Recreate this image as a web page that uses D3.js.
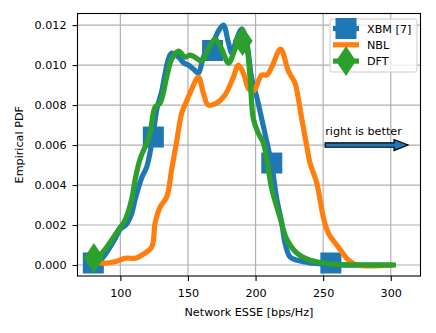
<!DOCTYPE html>
<html>
<head>
<meta charset="utf-8">
<script src="https://cdn.jsdelivr.net/npm/d3@7"></script>
<style>
	body { margin: 0; background: #fff; }
	text { font-family: "DejaVu Sans", sans-serif; fill: #000; }
</style>
</head>
<body>
<div id="chart"></div>
<script>

///////////////////////////////////////////////////////////////////////////
/////////////////////////////// The data //////////////////////////////////
///////////////////////////////////////////////////////////////////////////

var seriesNames = ["XBM [7]", "NBL", "DFT"];

var xbmX = [80, 86, 91, 96, 100, 104, 108, 111, 116, 119.5, 124, 127, 130.6, 135.5, 138, 143, 147, 150.3, 154, 157.7, 161.4, 165, 168.8, 172.5, 176.2, 180, 182.4, 186, 189.8, 193.5, 197.2, 200.9, 204.6, 209.5, 212, 215.7, 219.4, 221.8, 225.5, 230, 235.3, 240, 250, 260, 280, 300];
var xbmY = [0.0001, 0.0003, 0.00075, 0.0013, 0.0018, 0.0020, 0.0025, 0.0033, 0.0044, 0.0049, 0.0064, 0.0078, 0.0087, 0.0103, 0.0106, 0.0104, 0.0101, 0.0100, 0.0098, 0.0096, 0.0104, 0.0108, 0.01115, 0.0117, 0.0120, 0.0111, 0.0106, 0.0113, 0.0118, 0.0111, 0.0093, 0.0084, 0.0073, 0.0058, 0.0050, 0.0033, 0.0021, 0.0011, 0.0004, 0.00025, 0.00017, 0.0001, 0.00005, 0, 0, 0];

var nblX = [84, 91, 98, 103.5, 111, 116, 123.2, 125.7, 129.4, 134.3, 138, 141.7, 145.4, 149, 152.8, 157.7, 161.4, 165, 171.3, 177.4, 183.6, 187.3, 191, 195, 198.4, 204.6, 208.3, 212, 218.5, 224.3, 229.2, 231.7, 234.2, 238, 240.3, 245.3, 250.1, 253.8, 261.2, 268.6, 275, 300];
var nblY = [0.0001, 0.0001, 0.0002, 0.00034, 0.00034, 0.0005, 0.0009, 0.0021, 0.0029, 0.0034, 0.0048, 0.0062, 0.0076, 0.0082, 0.0088, 0.0094, 0.0086, 0.0080, 0.0081, 0.0085, 0.0094, 0.0100, 0.0096, 0.0088, 0.0087, 0.0095, 0.0095, 0.0099, 0.0108, 0.0097, 0.0091, 0.0083, 0.0073, 0.0059, 0.0051, 0.0041, 0.0024, 0.0016, 0.0009, 0.00025, 0, 0];

var dftX = [80, 85, 91, 98.5, 103.5, 108.4, 111, 114.6, 119.5, 122, 125.7, 129.4, 134.3, 138, 143, 147.9, 151.6, 155, 160.2, 165, 170, 175, 180, 184.8, 189.8, 193.5, 195.9, 198.4, 202, 205.8, 209, 212, 218, 223, 230.5, 240, 250, 260, 280, 302];
var dftY = [0.0003, 0.0005, 0.0010, 0.00175, 0.00225, 0.0033, 0.0043, 0.0053, 0.0061, 0.0066, 0.0079, 0.0081, 0.0094, 0.0103, 0.0107, 0.0104, 0.0105, 0.0104, 0.0102, 0.0108, 0.0113, 0.0108, 0.0101, 0.0108, 0.0116, 0.0109, 0.0094, 0.0073, 0.0066, 0.0061, 0.0050, 0.0038, 0.0024, 0.0013, 0.0006, 0.00025, 0.0001, 0.00003, 0, 0];

//Marker positions
var xbmMarkX = [80, 124.4, 168.2, 212, 255.7];
var xbmMarkY = [0.0001, 0.0064, 0.01073, 0.0051, 0.0001];
var dftMarkX = [80.4, 190.4];
var dftMarkY = [0.00035, 0.0112];

var xTicks = [100, 150, 200, 250, 300];
var yTicks = [0, 0.002, 0.004, 0.006, 0.008, 0.010, 0.012];

///////////////////////////////////////////////////////////////////////////
//////////////////////////// Set up the SVG ///////////////////////////////
///////////////////////////////////////////////////////////////////////////

var width = 436,
	height = 333,
	fontSize = "11.2px";

var plotLeft = 77.5,
	plotRight = 420.5,
	plotTop = 13.5,
	plotBottom = 276;

var colors = ["#1f77b4", "#ff7f0e", "#2ca02c"];

var svg = d3.select("#chart")
	.append("svg")
	.attr("width", width)
	.attr("height", height);

var x = d3.scaleLinear().domain([68.3, 322]).range([plotLeft, plotRight]);
var y = d3.scaleLinear().domain([-0.00055, 0.01258]).range([plotBottom, plotTop]);

svg.append("defs").append("clipPath")
	.attr("id", "plot-clip")
	.append("rect")
	.attr("x", plotLeft)
	.attr("y", plotTop)
	.attr("width", plotRight - plotLeft)
	.attr("height", plotBottom - plotTop);

///////////////////////////////////////////////////////////////////////////
///////////////////////////////// Grid ////////////////////////////////////
///////////////////////////////////////////////////////////////////////////

var grid = svg.append("g").attr("class", "grid");

grid.selectAll(".vgrid")
	.data(xTicks)
	.enter().append("line")
	.attr("x1", function(d) { return x(d); })
	.attr("x2", function(d) { return x(d); })
	.attr("y1", plotTop)
	.attr("y2", plotBottom)
	.style("stroke", "#b0b0b0")
	.style("stroke-width", 1.2);

grid.selectAll(".hgrid")
	.data(yTicks)
	.enter().append("line")
	.attr("x1", plotLeft)
	.attr("x2", plotRight)
	.attr("y1", function(d) { return y(d); })
	.attr("y2", function(d) { return y(d); })
	.style("stroke", "#b0b0b0")
	.style("stroke-width", 1.2);

///////////////////////////////////////////////////////////////////////////
//////////////////////////////// Lines /////////////////////////////////////
///////////////////////////////////////////////////////////////////////////

var line = d3.line()
	.x(function(d) { return x(d[0]); })
	.y(function(d) { return y(d[1]); })
	.curve(d3.curveCatmullRom.alpha(0.5));

var series = [
	d3.zip(xbmX, xbmY),
	d3.zip(nblX, nblY),
	d3.zip(dftX, dftY)
];
var markers = [
	d3.zip(xbmMarkX, xbmMarkY),
	[],
	d3.zip(dftMarkX, dftMarkY)
];

var plot = svg.append("g").attr("clip-path", "url(#plot-clip)");

//Diamond shape, taller than wide
function diamondPath(cx, cy, w, h) {
	return "M" + cx + "," + (cy - h/2) + "L" + (cx + w/2) + "," + cy +
		"L" + cx + "," + (cy + h/2) + "L" + (cx - w/2) + "," + cy + "Z";
}

series.forEach(function(s, i) {
	plot.append("path")
		.datum(s)
		.attr("d", line)
		.style("fill", "none")
		.style("stroke", colors[i])
		.style("stroke-width", 5.2)
		.style("stroke-linejoin", "round")
		.style("stroke-linecap", "square");

	markers[i].forEach(function(m) {
		if (i === 0) {
			plot.append("rect")
				.attr("x", x(m[0]) - 10.5)
				.attr("y", y(m[1]) - 10.5)
				.attr("width", 21)
				.attr("height", 21)
				.style("fill", colors[i]);
		} else {
			plot.append("path")
				.attr("d", diamondPath(x(m[0]), y(m[1]), 20, 30))
				.style("fill", colors[i]);
		}
	});
});

///////////////////////////////////////////////////////////////////////////
//////////////////////////////// Axes //////////////////////////////////////
///////////////////////////////////////////////////////////////////////////

svg.append("g")
	.attr("transform", "translate(0," + plotBottom + ")")
	.call(d3.axisBottom(x).tickValues(xTicks).tickSize(5).tickPadding(8).tickFormat(d3.format("d")))
	.call(function(g) {
		g.select(".domain").remove();
		g.selectAll("line").style("stroke-width", 1.1);
		g.selectAll("text").style("font-size", fontSize).style("font-family", "DejaVu Sans");
	});

svg.append("g")
	.attr("transform", "translate(" + plotLeft + ",0)")
	.call(d3.axisLeft(y).tickValues(yTicks).tickSize(5).tickPadding(6).tickFormat(d3.format(".3f")))
	.call(function(g) {
		g.select(".domain").remove();
		g.selectAll("line").style("stroke-width", 1.1);
		g.selectAll("text").style("font-size", fontSize).style("font-family", "DejaVu Sans");
	});

//Frame
svg.append("rect")
	.attr("x", plotLeft)
	.attr("y", plotTop)
	.attr("width", plotRight - plotLeft)
	.attr("height", plotBottom - plotTop)
	.style("fill", "none")
	.style("stroke", "#000")
	.style("stroke-width", 1.1);

svg.append("text")
	.attr("x", (plotLeft + plotRight) / 2)
	.attr("y", 316)
	.style("text-anchor", "middle")
	.style("font-size", fontSize)
	.text("Network ESSE [bps/Hz]");

svg.append("text")
	.attr("transform", "translate(23," + ((plotTop + plotBottom) / 2) + ") rotate(-90)")
	.style("text-anchor", "middle")
	.style("font-size", fontSize)
	.text("Empirical PDF");

///////////////////////////////////////////////////////////////////////////
///////////////////////////// Annotation ///////////////////////////////////
///////////////////////////////////////////////////////////////////////////

svg.append("text")
	.attr("x", x(251.5))
	.attr("y", y(0.0065))
	.style("font-size", fontSize)
	.text("right is better");

var ax0 = x(251.5), ax1 = x(312.8), ay = y(0.006);
svg.append("path")
	.attr("d", "M" + ax0 + "," + (ay - 2.2) + "L" + (ax1 - 14) + "," + (ay - 2.2) +
		"L" + (ax1 - 14) + "," + (ay - 5.5) + "L" + ax1 + "," + ay +
		"L" + (ax1 - 14) + "," + (ay + 5.5) + "L" + (ax1 - 14) + "," + (ay + 2.2) +
		"L" + ax0 + "," + (ay + 2.2) + "Z")
	.style("fill", "#1f77b4")
	.style("stroke", "#000")
	.style("stroke-width", 1.2);

///////////////////////////////////////////////////////////////////////////
/////////////////////////////// Legend /////////////////////////////////////
///////////////////////////////////////////////////////////////////////////

var legend = svg.append("g").attr("class", "legend");

legend.append("rect")
	.attr("x", 330)
	.attr("y", 19)
	.attr("width", 87)
	.attr("height", 53)
	.attr("rx", 2.5)
	.style("fill", "#fff")
	.style("fill-opacity", 0.8)
	.style("stroke", "#cccccc")
	.style("stroke-width", 1);

seriesNames.forEach(function(name, i) {
	var ly = 28.5 + i * 16.3;
	legend.append("line")
		.attr("x1", 333)
		.attr("x2", 359)
		.attr("y1", ly)
		.attr("y2", ly)
		.style("stroke", colors[i])
		.style("stroke-width", 5.2);
	if (i === 0) {
		legend.append("rect")
			.attr("x", 346 - 10.5)
			.attr("y", ly - 10.5)
			.attr("width", 21)
			.attr("height", 21)
			.style("fill", colors[i]);
	} else if (i === 2) {
		legend.append("path")
			.attr("d", diamondPath(346, ly, 20, 30))
			.style("fill", colors[i]);
	}
	legend.append("text")
		.attr("x", 367)
		.attr("y", ly)
		.attr("dy", "0.36em")
		.style("font-size", fontSize)
		.text(name);
});

</script>
</body>
</html>
